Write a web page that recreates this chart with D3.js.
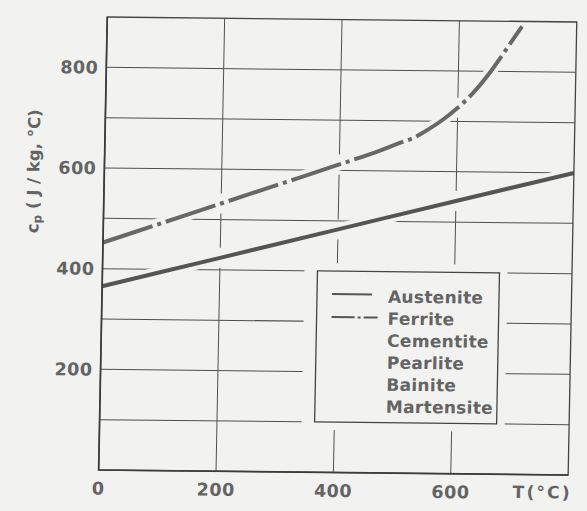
<!DOCTYPE html>
<html>
<head>
<meta charset="utf-8">
<script src="https://cdn.jsdelivr.net/npm/d3@7"></script>
<style>
  body { margin: 0; background: #f2f2f0; }
  svg { display: block; }
  text { font-family: "DejaVu Sans", sans-serif; font-weight: bold; fill: #646464; }
</style>
</head>
<body>
<div id="chart-area"></div>
<script>

// Values
var tempTicks = [0, 200, 400, 600];
var cpTicks = [200, 400, 600, 800];
var gridTemps = [200, 400, 600];
var gridCps = [100, 200, 300, 400, 500, 600, 700, 800];

var austeniteT = [0, 200, 400, 600, 800];
var austeniteCp = [365, 424, 483, 542, 600];

var ferriteT = [0, 100, 200, 300, 400, 470, 500, 525, 550, 575, 600, 625, 650, 675, 700, 707];
var ferriteCp = [452, 492, 532, 572, 612, 641, 655, 666, 683, 703, 727, 756, 792, 834, 878, 890];

var legendNames = ["Austenite", "Ferrite", "Cementite", "Pearlite", "Bainite", "Martensite"];

var bg = "#f2f2f0";

// SVG drawing area
var W = 587, H = 511;
var margin = {top: 19.5, right: 14.5, bottom: 38.5, left: 103};
var width = W - margin.left - margin.right,
    height = H - margin.top - margin.bottom;

var svg = d3.select("#chart-area").append("svg")
    .attr("width", W)
    .attr("height", H);

svg.append("rect").attr("width", W).attr("height", H).attr("fill", bg);

// the scan is a little skewed, so the whole figure gets a slight shear
var g = svg.append("g")
    .attr("transform", "matrix(1,0.0106,-0.019,1,4.636,-3.583)")
  .append("g")
    .attr("transform", "translate(" + margin.left + "," + margin.top + ")");

// Scales
var x = d3.scaleLinear().domain([0, 800]).range([0, width]);
var y = d3.scaleLinear().domain([0, 900]).range([height, 0]);

// piecewise interpolation of the curves (for gridline gaps)
var austAt = d3.scaleLinear().domain(austeniteT).range(austeniteCp);
var ferrAt = d3.scaleLinear().domain(ferriteT).range(ferriteCp);

var austData = austeniteT.map(function (t, i) { return [t, austeniteCp[i]]; });
var ferrData = ferriteT.map(function (t, i) { return [t, ferriteCp[i]]; });

var line = d3.line()
    .x(function (d) { return x(d[0]); })
    .y(function (d) { return y(d[1]); })
    .curve(d3.curveMonotoneX);

// horizontal gridlines
g.selectAll(".hgrid").data(gridCps).enter().append("line")
    .attr("class", "hgrid")
    .attr("x1", 0).attr("x2", width)
    .attr("y1", function (d) { return y(d); })
    .attr("y2", function (d) { return y(d); })
    .attr("stroke", "#4f4f4f").attr("stroke-width", 1);

// halo under the curves knocks out the gridlines
[austData, ferrData].forEach(function (dat) {
    g.append("path")
        .attr("d", line(dat))
        .attr("fill", "none")
        .attr("stroke", bg)
        .attr("stroke-width", 12);
});

// vertical gridlines, broken where the curves cross them
gridTemps.forEach(function (t) {
    var cuts = [y(austAt(t))];
    if (t <= d3.max(ferriteT)) cuts.push(y(ferrAt(t)));
    cuts.sort(function (a, b) { return a - b; });
    var start = 0;
    cuts.forEach(function (c) {
        g.append("line")
            .attr("x1", x(t)).attr("x2", x(t))
            .attr("y1", start).attr("y2", c - 10)
            .attr("stroke", "#4f4f4f").attr("stroke-width", 1);
        start = c + 10;
    });
    g.append("line")
        .attr("x1", x(t)).attr("x2", x(t))
        .attr("y1", start).attr("y2", height)
        .attr("stroke", "#4f4f4f").attr("stroke-width", 1);
});

// curves
g.append("path")
    .attr("d", line(austData))
    .attr("fill", "none")
    .attr("stroke", "#555")
    .attr("stroke-width", 4);

g.append("path")
    .attr("d", line(ferrData))
    .attr("fill", "none")
    .attr("stroke", "#686868")
    .attr("stroke-width", 4)
    .attr("stroke-dasharray", "52,5,4,5");

// frame
g.append("rect")
    .attr("width", width).attr("height", height)
    .attr("fill", "none")
    .attr("stroke", "#444").attr("stroke-width", 1.3);
g.append("path")
    .attr("d", "M0,0V" + height + "H" + width)
    .attr("fill", "none")
    .attr("stroke", "#3c3c3c").attr("stroke-width", 1.7);

// legend
g.append("rect")
    .attr("x", 202).attr("y", y(400) - 8)
    .attr("width", 203).attr("height", y(100) - y(400) + 16)
    .attr("fill", bg);

var legend = g.append("g")
    .attr("transform", "translate(215," + y(400) + ")");

legend.append("rect")
    .attr("width", 182).attr("height", y(100) - y(400))
    .attr("fill", "none")
    .attr("stroke", "#444").attr("stroke-width", 1.3);

legend.append("line")
    .attr("x1", 15).attr("x2", 55).attr("y1", 23).attr("y2", 23)
    .attr("stroke", "#555").attr("stroke-width", 2);
legend.append("line")
    .attr("x1", 15).attr("x2", 61).attr("y1", 46).attr("y2", 46)
    .attr("stroke", "#555").attr("stroke-width", 2)
    .attr("stroke-dasharray", "23,3,3,3,14");

legend.selectAll(".lab").data(legendNames).enter().append("text")
    .attr("class", "lab")
    .attr("x", 71)
    .attr("y", function (d, i) { return 31 + i * 22; })
    .attr("font-size", 17)
    .attr("letter-spacing", 0.3)
    .attr("fill", "#5e5e5e")
    .text(function (d) { return d; });

// tick labels
g.selectAll(".ytick").data(cpTicks).enter().append("text")
    .attr("class", "ytick")
    .attr("x", -8)
    .attr("y", function (d) { return y(d); })
    .attr("dy", "0.36em")
    .attr("text-anchor", "end")
    .attr("font-size", 17.5)
    .attr("letter-spacing", 0.5)
    .text(function (d) { return d; });

g.selectAll(".xtick").data(tempTicks).enter().append("text")
    .attr("class", "xtick")
    .attr("x", function (d) { return x(d); })
    .attr("y", height + 24.5)
    .attr("text-anchor", "middle")
    .attr("font-size", 17.5)
    .attr("letter-spacing", 0.5)
    .text(function (d) { return d; });

// axis titles
g.append("text")
    .attr("x", width + 4)
    .attr("y", height + 23.5)
    .attr("text-anchor", "end")
    .attr("font-size", 17)
    .attr("letter-spacing", 2.2)
    .text("T(°C)");

var yt = g.append("text")
    .attr("transform", "translate(-65,155) rotate(-90)")
    .attr("text-anchor", "middle")
    .attr("font-size", 16.5);
yt.append("tspan").text("c");
yt.append("tspan").attr("font-size", 12).attr("dy", 3).text("p");
yt.append("tspan").attr("dy", -3).text(" ( J / kg, °C)");

</script>
</body>
</html>
